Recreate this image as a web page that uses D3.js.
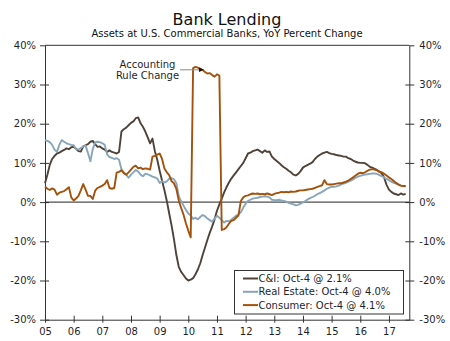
<!DOCTYPE html>
<html>
<head>
<meta charset="utf-8">
<script src="https://cdn.jsdelivr.net/npm/d3@7/dist/d3.min.js"></script>
<style>
  html, body { margin: 0; padding: 0; background: #fff; }
  svg { display: block; font-family: "DejaVu Sans", Verdana, sans-serif; }
</style>
</head>
<body>
<svg id="chart" width="450" height="341"></svg>
<script>
// Monthly observations starting January 2005 (YoY % change)
const startYear = 2005;

const ciValues = [
  4.8, 7.0, 9.5, 11.0, 11.8, 12.4, 12.6, 13.0, 13.3, 13.7, 13.5, 14.0,
  14.1, 13.6, 13.0, 12.9, 14.2, 14.5, 14.8, 15.4, 15.6, 14.8, 14.1, 14.2,
  13.7, 13.4, 12.8, 13.2, 12.8, 12.6, 12.4, 12.8, 18.0, 18.6, 19.0, 19.6,
  20.2, 20.6, 21.4, 21.6, 20.1, 19.2, 18.0, 16.5, 15.0, 16.2, 13.0, 10.8,
  8.0, 5.5, 3.0, 0.3, -2.9, -6.0, -9.5, -13.5, -16.5, -17.8, -18.6, -19.5,
  -20.0, -19.8, -19.4, -18.4, -17.2, -15.6, -13.5, -11.6, -9.6, -7.8, -6.2, -4.4,
  -2.2, -0.6, 0.9, 2.5, 3.8, 5.0, 6.0, 6.8, 7.6, 8.4, 9.2, 10.0,
  11.2, 12.4, 12.6, 13.0, 13.2, 13.4, 13.0, 12.6, 13.2, 12.8, 12.9, 11.6,
  11.0, 10.5, 10.0, 9.4, 8.9, 8.5, 8.0, 7.6, 7.0, 6.8, 7.2, 7.9,
  8.8, 9.2, 9.5, 9.8, 10.2, 11.0, 11.6, 12.0, 12.4, 12.6, 12.8, 12.5,
  12.3, 12.2, 12.0, 11.9, 11.8, 11.6, 11.6, 11.2, 11.0, 10.6, 10.3, 10.1,
  10.0, 10.0, 9.9, 9.5, 9.0, 8.8, 8.5, 8.2, 7.8, 7.3, 6.2, 4.4,
  3.2, 2.6, 2.2, 2.0, 1.8, 2.2, 1.9, 2.1
];

const realEstateValues = [
  15.8, 15.6, 15.3, 14.6, 13.4, 12.8, 14.6, 15.8, 15.4, 15.0, 14.8, 14.6,
  14.5, 13.5, 13.4, 13.8, 14.2, 14.4, 12.5, 10.4, 13.5, 15.2, 15.4, 15.3,
  15.0, 14.6, 12.2, 11.5, 11.3, 11.0, 11.2, 10.8, 8.4, 7.6, 7.0, 6.2,
  7.0, 7.6, 8.2, 7.8, 7.0, 6.6, 7.2, 7.1, 6.8, 6.5, 6.3, 6.0,
  4.9, 5.3, 5.0, 5.3, 6.0, 6.1, 5.8, 4.8, 1.5, 0.2, -0.9, -2.0,
  -2.9, -3.4, -4.3, -4.0, -4.4, -3.8, -3.3, -3.6, -4.2, -4.6, -5.0, -4.2,
  -3.5, -4.0, -4.6, -5.2, -4.8, -4.9, -4.5, -4.0, -3.5, -3.1, -2.6, -1.4,
  -0.4, 0.3, 0.6, 0.9, 1.0, 1.1, 1.3, 1.4, 1.5, 1.4, 1.2, 0.6,
  0.5, 0.5, 0.6, 0.4, 0.3, 0.1, -0.2, -0.4, -0.6, -0.8, -0.7, -0.4,
  -0.1, 0.3, 0.7, 1.0, 1.3, 1.6, 2.0, 2.3, 2.6, 3.0, 3.4, 3.7,
  3.9, 3.9, 4.0, 4.2, 4.5, 4.7, 4.9, 5.2, 5.5, 5.8, 6.2, 6.5,
  6.7, 6.9, 7.0, 7.1, 7.2, 7.3, 7.3, 7.2, 6.9, 6.6, 6.3, 5.9,
  5.6, 5.2, 4.9, 4.7, 4.4, 4.2, 4.0, 4.0
];

const consumerValues = [
  3.9, 3.4, 3.1, 3.5, 3.2, 1.9, 2.4, 2.6, 2.8, 3.3, 3.8, 1.2,
  0.4, 0.9, 1.6, 3.0, 4.6, 3.2, 1.6, 1.6, 0.8, 2.9, 3.6, 3.9,
  4.2, 4.6, 5.6, 3.6, 3.4, 3.6, 7.5, 7.7, 8.1, 7.4, 7.0, 7.6,
  8.3, 9.0, 9.3, 8.6, 8.8, 8.4, 8.6, 8.5, 8.3, 11.6, 11.8, 12.1,
  12.4, 11.0, 8.6, 7.6, 6.9, 5.3, 4.8, 3.4, 0.4, -1.5, -3.2, -5.4,
  -7.3, -9.0, 34.2, 34.5, 34.3, 34.0, 33.7, 33.2, 32.8, 32.9, 32.4, 32.0,
  32.6, 32.3, -7.1, -6.9, -6.4, -5.5, -4.8, -4.6, -4.0, -3.4, 0.3, 1.2,
  1.6, 1.7, 2.0, 2.2, 2.1, 2.2, 2.0, 2.1, 2.0, 2.2, 2.0, 1.8,
  2.1, 2.3, 2.4, 2.6, 2.5, 2.6, 2.5, 2.7, 2.6, 2.7, 2.9, 3.0,
  3.0, 3.1, 3.2, 3.3, 3.4, 3.6, 3.9, 4.1, 4.3, 5.6, 4.6, 4.5,
  4.5, 4.6, 4.7, 4.8, 4.8, 5.0, 5.2, 5.5, 5.9, 6.3, 6.8, 7.2,
  7.5, 7.4, 7.6, 8.0, 8.3, 8.4, 8.3, 8.1, 7.7, 7.6, 7.2, 6.8,
  6.3, 5.9, 5.4, 4.9, 4.5, 4.2, 4.1, 4.1
];

const yTicks = [-30, -20, -10, 0, 10, 20, 30, 40];
const xTicks = [2005, 2006, 2007, 2008, 2009, 2010, 2011, 2012, 2013, 2014, 2015, 2016, 2017];

const seriesNames = ["C&I: Oct-4 @ 2.1%", "Real Estate: Oct-4 @ 4.0%", "Consumer: Oct-4 @ 4.1%"];
const seriesColors = ["#4f4339", "#88a5b9", "#a3520c"];

// Time index for each monthly observation
const dates = ciValues.map((_, i) => startYear + i / 12);
const series = [ciValues, realEstateValues, consumerValues].map((vals, k) => ({
  name: seriesNames[k],
  color: seriesColors[k],
  points: vals.map((v, i) => ({ t: dates[i], v }))
}));

const svg = d3.select("#chart");
const plotLeft = 45, plotRight = 409.3, plotTop = 45.3, plotBottom = 319.7;

const x = d3.scaleLinear().domain([2005, 2017.71]).range([plotLeft, plotRight]);
const y = d3.scaleLinear().domain([-30, 40]).range([plotBottom, plotTop]);

const textColor = "#1f1f2a";

// Title and subtitle
svg.append("text").attr("x", 227).attr("y", 25).attr("text-anchor", "middle")
  .attr("font-size", 16).attr("fill", "#111").text("Bank Lending");
svg.append("text").attr("x", 227).attr("y", 37).attr("text-anchor", "middle")
  .attr("font-size", 10).attr("fill", "#111").text("Assets at U.S. Commercial Banks, YoY Percent Change");

// Top frame line
svg.append("line").attr("x1", plotLeft).attr("x2", plotRight).attr("y1", plotTop).attr("y2", plotTop)
  .attr("stroke", "#333").attr("stroke-width", 1);

// Left axis
const gL = svg.append("g").attr("transform", `translate(${plotLeft},0)`)
  .call(d3.axisLeft(y).tickValues(yTicks).tickFormat(d => d + "%").tickSizeInner(5).tickSizeOuter(0).tickPadding(4));
gL.selectAll(".tick line").attr("x1", 4).attr("x2", -5);
gL.selectAll(".tick").filter(d => d === 40).select("line").attr("x1", 0);

// Right axis
const gR = svg.append("g").attr("transform", `translate(${plotRight},0)`)
  .call(d3.axisRight(y).tickValues(yTicks).tickFormat(d => d + "%").tickSizeInner(5).tickSizeOuter(0).tickPadding(5));
gR.selectAll(".tick line").attr("x1", -4).attr("x2", 5);
gR.selectAll(".tick").filter(d => d === 40).select("line").attr("x1", 0);

// Bottom axis
const gB = svg.append("g").attr("transform", `translate(0,${plotBottom})`)
  .call(d3.axisBottom(x).tickValues(xTicks).tickFormat(d => String(d).slice(2)).tickSizeInner(3).tickSizeOuter(0).tickPadding(5));
gB.selectAll(".tick line").attr("y1", -4).attr("y2", 3);

[gL, gR, gB].forEach(g => {
  g.select(".domain").attr("stroke", "#333");
  g.selectAll(".tick line").attr("stroke", "#333");
  g.selectAll(".tick text").attr("font-size", 10).attr("fill", textColor)
    .attr("font-family", "'DejaVu Sans', Verdana, sans-serif");
});

// Zero line
svg.append("line").attr("x1", plotLeft).attr("x2", plotRight).attr("y1", y(0)).attr("y2", y(0))
  .attr("stroke", "#222").attr("stroke-width", 1);

// Series lines
const line = d3.line().x(d => x(d.t)).y(d => y(d.v));
series.forEach(s => {
  svg.append("path").datum(s.points)
    .attr("fill", "none").attr("stroke", s.color).attr("stroke-width", 1.9)
    .attr("stroke-linejoin", "round").attr("d", line);
});

// Annotation
svg.append("text").attr("x", 147.5).attr("y", 67.5).attr("text-anchor", "middle")
  .attr("font-size", 10).attr("fill", textColor).text("Accounting");
svg.append("text").attr("x", 147.5).attr("y", 79).attr("text-anchor", "middle")
  .attr("font-size", 10).attr("fill", textColor).text("Rule Change");
svg.append("line").attr("x1", 180).attr("x2", 200).attr("y1", 69.8).attr("y2", 69.8)
  .attr("stroke", "#8a8a8a").attr("stroke-width", 1);
svg.append("path").attr("d", "M199,67.6 L204,69.8 L199,72 Z").attr("fill", "#111");

// Legend
const lg = svg.append("g");
lg.append("rect").attr("x", 234.5).attr("y", 270.5).attr("width", 169).attr("height", 43.5)
  .attr("fill", "#fff").attr("stroke", "#333").attr("stroke-width", 1);
series.forEach((s, i) => {
  const cy = 278.5 + i * 13.3;
  lg.append("line").attr("x1", 243).attr("x2", 258).attr("y1", cy).attr("y2", cy)
    .attr("stroke", s.color).attr("stroke-width", 2);
  lg.append("text").attr("x", 258.5).attr("y", cy + 3.6).attr("font-size", 10)
    .attr("fill", textColor).text(s.name);
});
</script>
</body>
</html>
